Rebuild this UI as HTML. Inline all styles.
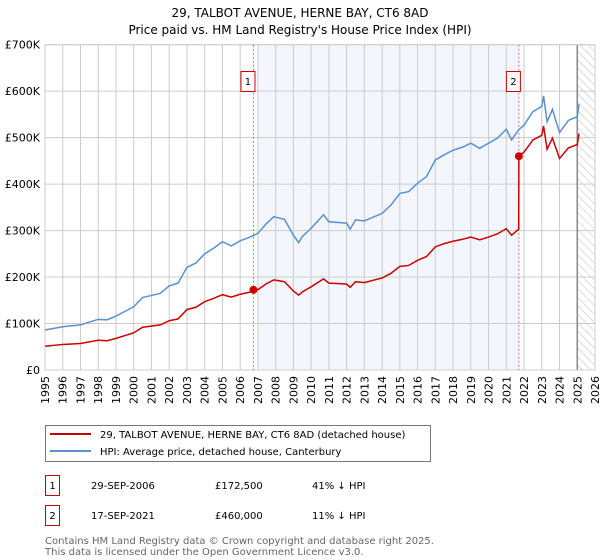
<!DOCTYPE html>
<html><head><meta charset="utf-8"><style>
body{margin:0;background:#fff;width:600px;height:560px;overflow:hidden;font-family:"DejaVu Sans","Liberation Sans",sans-serif;}
svg{display:block}
</style></head><body>
<svg id="chart" width="600" height="560" viewBox="0 0 600 560" font-family="DejaVu Sans, Liberation Sans, sans-serif">
<defs>
<pattern id="hatch" width="6" height="6" patternUnits="userSpaceOnUse" patternTransform="rotate(-45)">
<line x1="0" y1="0" x2="0" y2="6" stroke="#bbb" stroke-width="1"/></pattern>
</defs>
<text x="300" y="17" text-anchor="middle" font-size="12">29, TALBOT AVENUE, HERNE BAY, CT6 8AD</text>
<text x="300" y="34" text-anchor="middle" font-size="12">Price paid vs. HM Land Registry's House Price Index (HPI)</text>
<g id="plot"></g>
<g id="legend">
<rect x="45.5" y="425.5" width="385" height="36" fill="#fff" stroke="#777"/>
<line x1="50" y1="434" x2="91" y2="434" stroke="#cc0000" stroke-width="2"/>
<text x="100" y="438" font-size="10">29, TALBOT AVENUE, HERNE BAY, CT6 8AD (detached house)</text>
<line x1="50" y1="451" x2="91" y2="451" stroke="#5b8fd1" stroke-width="2"/>
<text x="100" y="455" font-size="10">HPI: Average price, detached house, Canterbury</text>
</g>
<g font-size="10">
<rect x="45.5" y="475.5" width="14" height="20" fill="#fff" stroke="#cc0000"/>
<text x="52.5" y="489" text-anchor="middle">1</text>
<text x="91" y="489">29-SEP-2006</text><text x="215" y="489">£172,500</text><text x="312" y="489">41% ↓ HPI</text>
<rect x="45.5" y="505.5" width="14" height="20" fill="#fff" stroke="#cc0000"/>
<text x="52.5" y="519" text-anchor="middle">2</text>
<text x="91" y="519">17-SEP-2021</text><text x="215" y="519">£460,000</text><text x="312" y="519">11% ↓ HPI</text>
</g>
<g font-size="10" fill="#666">
<text x="45" y="544">Contains HM Land Registry data © Crown copyright and database right 2025.</text>
<text x="45" y="555">This data is licensed under the Open Government Licence v3.0.</text>
</g>
</svg>
<script>
const hpiYears=[1995,1996,1997,1998,1998.5,1999,2000,2000.5,2001.5,2002,2002.5,2003,2003.5,2004,2004.5,2005,2005.5,2006,2006.5,2007,2007.5,2007.9,2008.5,2009,2009.3,2009.5,2010,2010.7,2011,2012,2012.2,2012.5,2013,2014,2014.5,2015,2015.5,2016,2016.5,2017,2017.5,2018,2018.5,2019,2019.5,2020,2020.5,2021,2021.3,2021.7,2022,2022.5,2023,2023.1,2023.3,2023.6,2024,2024.5,2025,2025.1];
const hpiValues=[86,93,97,109,108,116,136,156,165,181,187,221,230,250,262,276,267,278,285,294,316,330,324,290,274,287,305,334,319,316,303,323,321,337,355,380,384,402,416,452,463,473,479,488,477,488,499,518,495,517,527,556,567,590,534,561,511,537,545,572];
const redYears=[1995,1996,1997,1998,1998.5,1999,2000,2000.5,2001.5,2002,2002.5,2003,2003.5,2004,2004.5,2005,2005.5,2006,2006.5,2006.75,2007,2007.5,2007.9,2008.5,2009,2009.3,2009.5,2010,2010.7,2011,2012,2012.2,2012.5,2013,2014,2014.5,2015,2015.5,2016,2016.5,2017,2017.5,2018,2018.5,2019,2019.5,2020,2020.5,2021,2021.3,2021.7,2021.71,2022,2022.5,2023,2023.1,2023.3,2023.6,2024,2024.5,2025,2025.1];
const redValues=[51,55,57,64,63,68,80,92,97,106,110,130,135,147,154,162,157,163,167,172.5,173,186,194,190,170,161,168,179,196,187,185,178,190,188,198,208,223,225,236,244,265,272,277,281,286,280,286,293,304,290,303,460,469,495,505,525,475,499,455,478,485,509];
const yTicks=[0,100,200,300,400,500,600,700];
const yTickLabels=["£0","£100K","£200K","£300K","£400K","£500K","£600K","£700K"];
const xTicks=[1995,1996,1997,1998,1999,2000,2001,2002,2003,2004,2005,2006,2007,2008,2009,2010,2011,2012,2013,2014,2015,2016,2017,2018,2019,2020,2021,2022,2023,2024,2025,2026];
const sales=[{n:"1",year:2006.75,value:172.5},{n:"2",year:2021.71,value:460}];
const NS="http://www.w3.org/2000/svg";
const L=45,R=595,T=44.7,B=370;
const x=y=>L+(y-1995)*(R-L)/31;
const yv=v=>B-v*(B-T)/700;
const g=document.getElementById('plot');
function mk(t,a,p){const e=document.createElementNS(NS,t);for(const k in a)e.setAttribute(k,a[k]);(p||g).appendChild(e);return e;}
let e;
e=mk('rect',{x:x(2007),y:T,width:x(2021.71)-x(2007),height:B-T,fill:'#eef3fc',opacity:0.7});


e=mk('rect',{x:x(2025),y:T,width:R-x(2025),height:B-T,fill:'url(#hatch)'});


yTicks.forEach((t,i)=>{
 e=mk('line',{x1:L,x2:R,y1:yv(t),y2:yv(t),stroke:'#ccc'});
 
 
 e=mk('text',{x:L-5,y:yv(t)+4,'text-anchor':'end','font-size':11});
 e.textContent=yTickLabels[i];
 
 
});
xTicks.forEach(t=>{
 e=mk('line',{x1:x(t),x2:x(t),y1:T,y2:B,stroke:'#ccc'});
 
 
 e=mk('text',{x:0,y:0,'font-size':11,'text-anchor':'end',transform:`translate(${x(t)+4},${B+6}) rotate(-90)`});
 e.textContent=t;
 
 
});
e=mk('line',{x1:x(2025),x2:x(2025),y1:T,y2:B,stroke:'#888','stroke-width':1.5});


e=mk('rect',{x:L,y:T,width:R-L,height:B-T,fill:'none',stroke:'#ccc'});


sales.forEach(s=>{
 e=mk('line',{x1:x(s.year),x2:x(s.year),y1:T,y2:B,stroke:'#e66','stroke-dasharray':'2,2'});
 
 
});
e=mk('polyline',{points:hpiYears.map((t,i)=>x(t)+','+yv(hpiValues[i])).join(' '),fill:'none',stroke:'#5b8fd1','stroke-width':1.5});


e=mk('polyline',{points:redYears.map((t,i)=>x(t)+','+yv(redValues[i])).join(' '),fill:'none',stroke:'#cc0000','stroke-width':1.5});


sales.forEach(s=>{
 e=mk('circle',{cx:x(s.year),cy:yv(s.value),r:4,fill:'#cc0000'});
 
 
 e=mk('rect',{x:x(s.year)-12.5,y:71.5,width:14,height:20,fill:'#fff',stroke:'#cc0000'});
 
 
 e=mk('text',{x:x(s.year)-5.5,y:85,'text-anchor':'middle','font-size':10});
 e.textContent=s.n;
 
 
});
</script>
</body></html>
